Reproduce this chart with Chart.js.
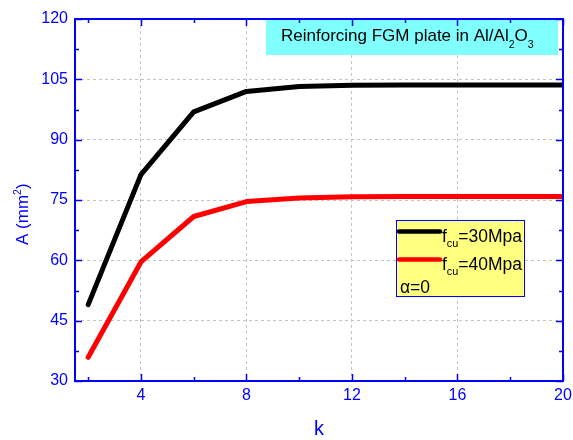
<!DOCTYPE html>
<html lang="en">
<head>
  <meta charset="UTF-8">
  <title>Reinforcing FGM plate</title>
  <script src="https://cdn.jsdelivr.net/npm/chart.js"></script>
  <style>
    body {
      margin: 0;
      background: #ffffff;
    }
    canvas {
      display: block;
    }
  </style>
</head>
<body>

  <canvas id="areaChart" width="573" height="440"></canvas>

  <script>
    // k values and reinforcement area A (mm^2)
    const kValues = [2, 4, 6, 8, 10, 12, 14, 16, 18, 20];
    const area30 = [49.0, 81.3, 96.9, 102.0, 103.2, 103.5, 103.6, 103.6, 103.6, 103.6];
    const area40 = [35.9, 59.6, 70.9, 74.6, 75.5, 75.8, 75.9, 75.9, 75.9, 75.9];

    const xTicks = [4, 8, 12, 16, 20];
    const xMinorTicks = [2, 6, 10, 14, 18];
    const yTicks = [30, 45, 60, 75, 90, 105, 120];
    const yMinorTicks = [37.5, 52.5, 67.5, 82.5, 97.5, 112.5];

    const legendSub = ['cu', 'cu'];
    const legendRest = ['=30Mpa', '=40Mpa'];

    const FONT = '"Liberation Sans", Arial, sans-serif';
    const BLUE = '#0000ff';

    function toPoints(ys) {
      return kValues.map((k, i) => ({ x: k, y: ys[i] }));
    }

    // text with sub/superscript pieces: [text, shift] (shift >0 = down)
    function drawPieces(ctx, x, y, size, pieces) {
      pieces.forEach(p => {
        const s = p[1] ? size * 0.62 : size;
        ctx.font = s + 'px ' + FONT;
        ctx.fillText(p[0], x, y + p[1] * size);
        x += ctx.measureText(p[0]).width;
      });
      return x;
    }

    const decor = {
      id: 'decor',
      beforeDatasetsDraw(chart) {
        const ctx = chart.ctx;
        ctx.save();
        // title box
        ctx.fillStyle = '#80ffff';
        ctx.fillRect(266, 20, 292, 35);
        ctx.fillStyle = '#000000';
        ctx.textBaseline = 'alphabetic';
        ctx.textAlign = 'left';
        drawPieces(ctx, 281, 41, 17, [['Reinforcing FGM plate in Al/Al', 0], ['2', 0.42], ['O', 0], ['3', 0.42]]);

        // legend box
        ctx.fillStyle = '#ffff80';
        ctx.fillRect(396, 220, 129, 77);
        ctx.strokeStyle = BLUE;
        ctx.lineWidth = 1;
        ctx.strokeRect(396.5, 220.5, 128, 76);
        const rows = [231.5, 259.5];
        chart.data.datasets.forEach((ds, i) => {
          ctx.strokeStyle = ds.borderColor;
          ctx.lineWidth = 4.5;
          ctx.lineCap = 'round';
          ctx.beginPath();
          ctx.moveTo(399, rows[i]);
          ctx.lineTo(440, rows[i]);
          ctx.stroke();
          ctx.fillStyle = '#000000';
          drawPieces(ctx, 442, rows[i] + 10, 17.5, [['f', 0], [legendSub[i], 0.3], [legendRest[i], 0]]);
        });
        ctx.font = '17.5px ' + FONT;
        ctx.fillText('\u03b1=0', 400, 293);
        ctx.restore();
      },
      afterDraw(chart) {
        const ctx = chart.ctx;
        const a = chart.chartArea;
        const xs = chart.scales.x, ys = chart.scales.y;
        ctx.save();
        ctx.strokeStyle = BLUE;
        ctx.lineWidth = 2;
        ctx.strokeRect(a.left, a.top, a.right - a.left, a.bottom - a.top);
        ctx.lineWidth = 1.5;
        ctx.beginPath();
        const tickX = (vals, len) => vals.forEach(v => {
          const p = Math.round(xs.getPixelForValue(v)) + 0.5;
          ctx.moveTo(p, a.bottom); ctx.lineTo(p, a.bottom - len);
          ctx.moveTo(p, a.top); ctx.lineTo(p, a.top + len);
        });
        const tickY = (vals, len) => vals.forEach(v => {
          const p = Math.round(ys.getPixelForValue(v)) + 0.5;
          ctx.moveTo(a.left, p); ctx.lineTo(a.left + len, p);
          ctx.moveTo(a.right, p); ctx.lineTo(a.right - len, p);
        });
        tickX(xTicks, 7); tickX(xMinorTicks, 4);
        tickY(yTicks, 7); tickY(yMinorTicks, 4);
        ctx.stroke();

        // axis titles
        ctx.fillStyle = BLUE;
        ctx.textAlign = 'center';
        ctx.textBaseline = 'alphabetic';
        ctx.font = '20px ' + FONT;
        ctx.fillText('k', (a.left + a.right) / 2, 435);
        ctx.textAlign = 'left';
        ctx.translate(28, 245);
        ctx.rotate(-Math.PI / 2);
        drawPieces(ctx, 0, 0, 17, [['A (mm', 0], ['2', -0.42], [')', 0]]);
        ctx.restore();
      }
    };

    const ctx = document.getElementById('areaChart').getContext('2d');
    new Chart(ctx, {
      type: 'line',
      data: {
        datasets: [
          {
            label: 'fcu=30Mpa',
            data: toPoints(area30),
            borderColor: '#000000',
            borderWidth: 5,
            pointRadius: 0,
            tension: 0,
            borderJoinStyle: 'round',
            borderCapStyle: 'round',
            fill: false
          },
          {
            label: 'fcu=40Mpa',
            data: toPoints(area40),
            borderColor: '#ff0000',
            borderWidth: 5,
            pointRadius: 0,
            tension: 0,
            borderJoinStyle: 'round',
            borderCapStyle: 'round',
            fill: false
          }
        ]
      },
      options: {
        responsive: false,
        animation: false,
        devicePixelRatio: 1,
        layout: { padding: { left: 0, right: 10, top: 19, bottom: 0 } },
        plugins: {
          legend: { display: false },
          tooltip: { enabled: false }
        },
        scales: {
          x: {
            type: 'linear',
            min: 1.5,
            max: 20,
            afterBuildTicks: s => { s.ticks = xTicks.map(v => ({ value: v })); },
            afterFit: s => { s.height = 59; s.paddingLeft = 0; s.paddingRight = 0; },
            grid: { color: '#c4c4c4', lineWidth: 1, drawTicks: false },
            border: { display: false, dash: [3, 3] },
            ticks: { color: BLUE, padding: 5, maxRotation: 0, font: { family: FONT, size: 16 } }
          },
          y: {
            type: 'linear',
            min: 30,
            max: 120,
            afterBuildTicks: s => { s.ticks = yTicks.map(v => ({ value: v })); },
            afterFit: s => { s.width = 75; s.paddingTop = 0; s.paddingBottom = 0; },
            grid: { color: '#c4c4c4', lineWidth: 1, drawTicks: false },
            border: { display: false, dash: [3, 3] },
            ticks: { color: BLUE, padding: 7, font: { family: FONT, size: 16 } }
          }
        }
      },
      plugins: [decor]
    });
  </script>

</body>
</html>
